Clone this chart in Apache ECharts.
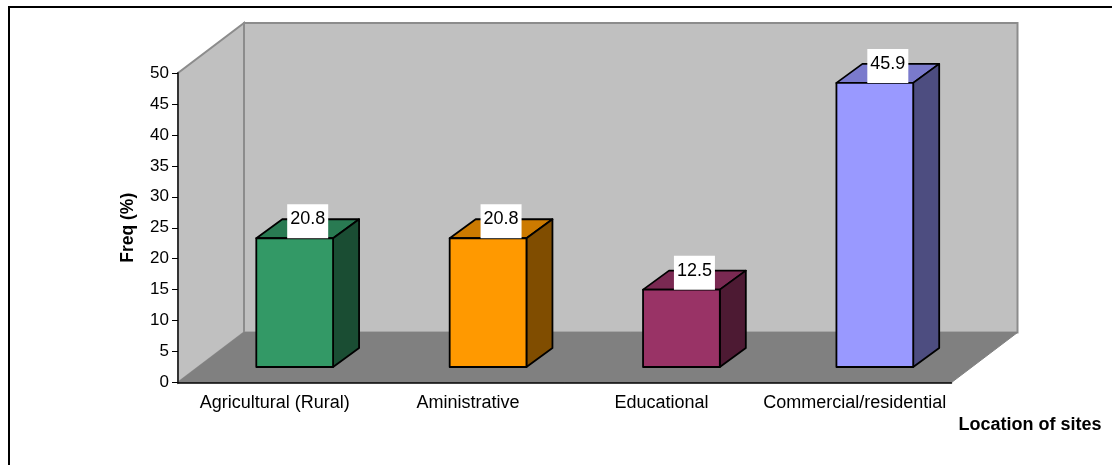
<!DOCTYPE html>
<html>
<head>
<meta charset="utf-8">
<style>
  html, body { margin: 0; padding: 0; background: #fff; }
  #chart { width: 1112px; height: 465px; }
</style>
<script src="https://cdn.jsdelivr.net/npm/echarts@6/dist/echarts.min.js"></script>
</head>
<body>
<div id="chart"></div>
<script>
const categories = ['Agricultural (Rural)', 'Aministrative', 'Educational', 'Commercial/residential'];
const freqValues = [20.8, 20.8, 12.5, 45.9];
const yTickStep = 5;
const yMax = 50;

// front, top and side shades of each column
const frontColors = ['#339966', '#FF9900', '#993366', '#9999FF'];
const topColors = ['#297A52', '#CC7A00', '#7A2952', '#7A7ACC'];
const sideColors = ['#1A4D33', '#804D00', '#4D1A33', '#4D4D80'];

const FONT = '"Liberation Sans", Arial, sans-serif';
const WALL_DX = 66, WALL_DY = -50;
const BAR_DX = 26, BAR_DY = -19;
const BAR_LIFT = 15.5, BAR_SHIFT = 20, BAR_WIDTH_RATIO = 0.397;

function renderRoom(params, api) {
  const band = api.size([1, 0])[0];
  const bottom = api.coord([0, 0]);
  const top = api.coord([0, yMax]);
  const l = bottom[0] - band / 2;
  const r = l + band * categories.length;
  const yb = bottom[1], yt = top[1];
  const wall = { fill: '#C0C0C0', stroke: '#8C8C8C', lineWidth: 2 };
  return {
    type: 'group',
    children: [
      { type: 'polygon', shape: { points: [[l + WALL_DX, yt + WALL_DY], [r + WALL_DX, yt + WALL_DY], [r + WALL_DX, yb + WALL_DY], [l + WALL_DX, yb + WALL_DY]] }, style: wall },
      { type: 'polygon', shape: { points: [[l, yb], [l + WALL_DX, yb + WALL_DY], [l + WALL_DX, yt + WALL_DY], [l, yt]] }, style: wall },
      { type: 'polygon', shape: { points: [[l, yb], [l + WALL_DX, yb + WALL_DY], [r + WALL_DX, yb + WALL_DY], [r, yb]] }, style: { fill: '#808080', stroke: '#808080', lineWidth: 1 } }
    ]
  };
}

function renderColumn(params, api) {
  const i = api.value(0);
  const v = api.value(1);
  const band = api.size([1, 0])[0];
  const w = band * BAR_WIDTH_RATIO;
  const base = api.coord([i, 0]);
  const head = api.coord([i, v]);
  const x0 = base[0] + BAR_SHIFT - w / 2, x1 = x0 + w;
  const yb = base[1] - BAR_LIFT, yt = head[1] - BAR_LIFT;
  const edge = { stroke: '#000', lineWidth: 1.8, lineJoin: 'round' };
  const cx = (x0 + x1) / 2 + BAR_DX / 2;
  return {
    type: 'group',
    children: [
      { type: 'polygon', shape: { points: [[x0, yt], [x0 + BAR_DX, yt + BAR_DY], [x1 + BAR_DX, yt + BAR_DY], [x1, yt]] }, style: Object.assign({ fill: topColors[i] }, edge) },
      { type: 'polygon', shape: { points: [[x1, yt], [x1 + BAR_DX, yt + BAR_DY], [x1 + BAR_DX, yb + BAR_DY], [x1, yb]] }, style: Object.assign({ fill: sideColors[i] }, edge) },
      { type: 'rect', shape: { x: x0, y: yt, width: w, height: yb - yt }, style: Object.assign({ fill: frontColors[i] }, edge) },
      { type: 'rect', shape: { x: cx - 20.5, y: yt - 34, width: 41, height: 34 }, style: { fill: '#fff' } },
      { type: 'text', style: { x: cx, y: yt - 19, text: v.toFixed(1), fill: '#000', font: '18px ' + FONT, textAlign: 'center', textVerticalAlign: 'middle' } }
    ]
  };
}

const chart = echarts.init(document.getElementById('chart'), null, { renderer: 'canvas' });
chart.setOption({
  animation: false,
  backgroundColor: '#fff',
  grid: { left: 178, right: 160.5, top: 73, height: 309.5 },
  xAxis: {
    type: 'category',
    data: categories,
    z: 3,
    axisLine: { lineStyle: { color: '#000', width: 1.5 } },
    axisTick: { length: 6, lineStyle: { color: '#000' } },
    axisLabel: { color: '#000', fontFamily: FONT, fontSize: 18, margin: 12, interval: 0 },
    name: 'Location of sites',
    nameLocation: 'end',
    nameGap: 7,
    nameTextStyle: { color: '#000', fontFamily: FONT, fontSize: 18, fontWeight: 'bold', align: 'left', verticalAlign: 'top', padding: [34, 0, 0, 0] }
  },
  yAxis: {
    type: 'value',
    min: 0,
    max: yMax,
    interval: yTickStep,
    z: 3,
    splitLine: { show: false },
    axisLine: { show: true, lineStyle: { color: '#333', width: 2 } },
    axisTick: { show: true, length: 6, lineStyle: { color: '#000' } },
    axisLabel: { color: '#000', fontFamily: FONT, fontSize: 17, margin: 9 },
    name: 'Freq (%)',
    nameLocation: 'middle',
    nameGap: 41,
    nameTextStyle: { color: '#000', fontFamily: FONT, fontSize: 17.5, fontWeight: 'bold' }
  },
  graphic: [
    { type: 'polyline', silent: true, shape: { points: [[9, 465], [9, 7], [1112, 7]] }, style: { stroke: '#000', lineWidth: 2, fill: null } }
  ],
  series: [
    { type: 'custom', z: 1, silent: true, clip: false, renderItem: renderRoom, data: [[0, 0]], encode: { x: 0, y: 1 } },
    { type: 'custom', z: 5, clip: false, renderItem: renderColumn, data: freqValues.map((v, i) => [i, v]), encode: { x: 0, y: 1 } }
  ]
});
</script>
</body>
</html>
